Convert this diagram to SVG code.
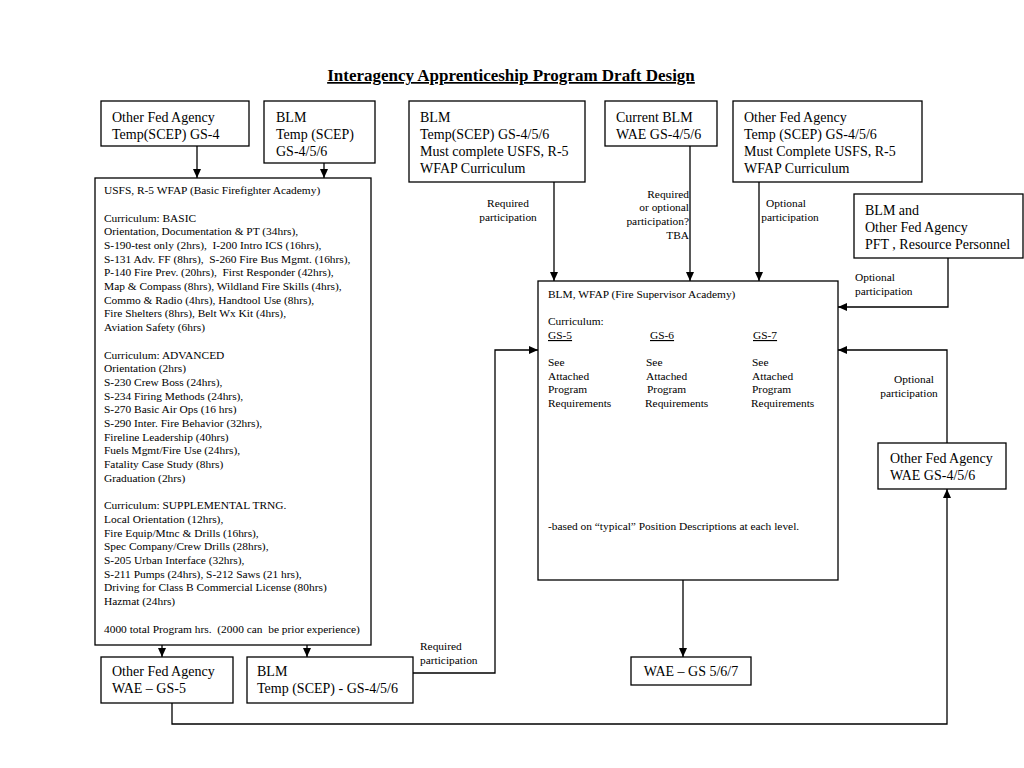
<svg xmlns="http://www.w3.org/2000/svg" width="1024" height="768" viewBox="0 0 1024 768">
<style>
.box{fill:#fff;stroke:#000;stroke-width:1.3}
.t{font-family:"Liberation Serif","Times New Roman",serif;font-size:14px;fill:#000}
.s{font-family:"Liberation Serif","Times New Roman",serif;font-size:11.4px;fill:#000}
.title{font-family:"Liberation Serif","Times New Roman",serif;font-size:17px;font-weight:bold;text-decoration:underline;fill:#000}
.ln{fill:none;stroke:#000;stroke-width:1.3}
</style>
<defs>
<marker id="ah" markerWidth="10" markerHeight="10" refX="9" refY="5" orient="auto" markerUnits="userSpaceOnUse">
<path d="M0,1 L9,5 L0,9 Z" fill="#000"/>
</marker>
</defs>
<rect width="1024" height="768" fill="#fff"/>
<text class="title" x="511" y="81" text-anchor="middle">Interagency Apprenticeship Program Draft Design</text>

<g id="connectors">
<line class="ln" x1="197" y1="146" x2="197" y2="178" marker-end="url(#ah)"/>
<line class="ln" x1="324" y1="163" x2="324" y2="178" marker-end="url(#ah)"/>
<line class="ln" x1="554" y1="182" x2="554" y2="281" marker-end="url(#ah)"/>
<line class="ln" x1="690" y1="146" x2="690" y2="281" marker-end="url(#ah)"/>
<line class="ln" x1="759" y1="182" x2="759" y2="281" marker-end="url(#ah)"/>
<polyline class="ln" points="948,258 948,307 838,307" marker-end="url(#ah)"/>
<polyline class="ln" points="947,443 947,350 838,350" marker-end="url(#ah)"/>
<polyline class="ln" points="410,673 495,673 495,350 538,350" marker-end="url(#ah)"/>
<line class="ln" x1="162" y1="645" x2="162" y2="657" marker-end="url(#ah)"/>
<line class="ln" x1="307" y1="645" x2="307" y2="657" marker-end="url(#ah)"/>
<line class="ln" x1="683" y1="580" x2="683" y2="657" marker-end="url(#ah)"/>
<polyline class="ln" points="172,703 172,724 947,724 947,489" marker-end="url(#ah)"/>
<text class="s" text-anchor="middle"><tspan x="508" y="207">Required</tspan><tspan x="508" y="221">participation</tspan></text>
<text class="s" text-anchor="end"><tspan x="689" y="198">Required</tspan><tspan x="689" y="211">or optional</tspan><tspan x="689" y="225">participation?</tspan><tspan x="689" y="239">TBA</tspan></text>
<text class="s" text-anchor="middle"><tspan x="786" y="207">Optional</tspan><tspan x="790" y="221">participation</tspan></text>
<text class="s"><tspan x="855" y="281">Optional</tspan><tspan x="855" y="295">participation</tspan></text>
<text class="s" text-anchor="middle"><tspan x="914" y="383">Optional</tspan><tspan x="909" y="397">participation</tspan></text>
<text class="s"><tspan x="420" y="650">Required</tspan><tspan x="420" y="664">participation</tspan></text>
</g>

<g id="n1"><rect class="box" x="101" y="101" width="148" height="45"/>
<text class="t"><tspan x="112" y="122">Other Fed Agency</tspan><tspan x="112" y="139">Temp(SCEP) GS-4</tspan></text></g>

<g id="n2"><rect class="box" x="264" y="101" width="111" height="62"/>
<text class="t"><tspan x="276" y="122">BLM</tspan><tspan x="276" y="139">Temp (SCEP)</tspan><tspan x="276" y="156">GS-4/5/6</tspan></text></g>

<g id="n3"><rect class="box" x="409" y="101" width="176" height="81"/>
<text class="t"><tspan x="420" y="122">BLM</tspan><tspan x="420" y="139">Temp(SCEP) GS-4/5/6</tspan><tspan x="420" y="156">Must complete USFS, R-5</tspan><tspan x="420" y="173">WFAP Curriculum</tspan></text></g>

<g id="n4"><rect class="box" x="605" y="101" width="112" height="45"/>
<text class="t"><tspan x="616" y="122">Current BLM</tspan><tspan x="616" y="139">WAE GS-4/5/6</tspan></text></g>

<g id="n5"><rect class="box" x="733" y="101" width="189" height="81"/>
<text class="t"><tspan x="744" y="122">Other Fed Agency</tspan><tspan x="744" y="139">Temp (SCEP) GS-4/5/6</tspan><tspan x="744" y="156">Must Complete USFS, R-5</tspan><tspan x="744" y="173">WFAP Curriculum</tspan></text></g>

<g id="n6"><rect class="box" x="854" y="194" width="169" height="64"/>
<text class="t"><tspan x="865" y="215">BLM and</tspan><tspan x="865" y="232">Other Fed Agency</tspan><tspan x="865" y="249">PFT , Resource Personnel</tspan></text></g>

<g id="n7"><rect class="box" x="95" y="178" width="276" height="467"/>
<text class="s" xml:space="preserve"><tspan x="104" y="194">USFS, R-5 WFAP (Basic Firefighter Academy)</tspan><tspan x="104" y="221.5">Curriculum: BASIC</tspan><tspan x="104" y="235.2">Orientation, Documentation &amp; PT (34hrs),</tspan><tspan x="104" y="248.9">S-190-test only (2hrs),  I-200 Intro ICS (16hrs),</tspan><tspan x="104" y="262.6">S-131 Adv. FF (8hrs),  S-260 Fire Bus Mgmt. (16hrs),</tspan><tspan x="104" y="276.3">P-140 Fire Prev. (20hrs),  First Responder (42hrs),</tspan><tspan x="104" y="290">Map &amp; Compass (8hrs), Wildland Fire Skills (4hrs),</tspan><tspan x="104" y="303.7">Commo &amp; Radio (4hrs), Handtool Use (8hrs),</tspan><tspan x="104" y="317.4">Fire Shelters (8hrs), Belt Wx Kit (4hrs),</tspan><tspan x="104" y="331.1">Aviation Safety (6hrs)</tspan><tspan x="104" y="358.5">Curriculum: ADVANCED</tspan><tspan x="104" y="372.2">Orientation (2hrs)</tspan><tspan x="104" y="385.9">S-230 Crew Boss (24hrs),</tspan><tspan x="104" y="399.6">S-234 Firing Methods (24hrs),</tspan><tspan x="104" y="413.3">S-270 Basic Air Ops (16 hrs)</tspan><tspan x="104" y="427">S-290 Inter. Fire Behavior (32hrs),</tspan><tspan x="104" y="440.7">Fireline Leadership (40hrs)</tspan><tspan x="104" y="454.4">Fuels Mgmt/Fire Use (24hrs),</tspan><tspan x="104" y="468.1">Fatality Case Study (8hrs)</tspan><tspan x="104" y="481.8">Graduation (2hrs)</tspan><tspan x="104" y="509.2">Curriculum: SUPPLEMENTAL TRNG.</tspan><tspan x="104" y="522.9">Local Orientation (12hrs),</tspan><tspan x="104" y="536.6">Fire Equip/Mtnc &amp; Drills (16hrs),</tspan><tspan x="104" y="550.3">Spec Company/Crew Drills (28hrs),</tspan><tspan x="104" y="564">S-205 Urban Interface (32hrs),</tspan><tspan x="104" y="577.7">S-211 Pumps (24hrs), S-212 Saws (21 hrs),</tspan><tspan x="104" y="591.4">Driving for Class B Commercial License (80hrs)</tspan><tspan x="104" y="605.1">Hazmat (24hrs)</tspan><tspan x="104" y="632.5">4000 total Program hrs.  (2000 can  be prior experience)</tspan></text></g>

<g id="n8"><rect class="box" x="538" y="281" width="300" height="299"/>
<text class="s"><tspan x="548" y="298">BLM, WFAP (Fire Supervisor Academy)</tspan><tspan x="548" y="325">Curriculum:</tspan></text>
<text class="s" text-decoration="underline"><tspan x="548" y="339">GS-5</tspan><tspan x="650" y="339">GS-6</tspan><tspan x="753" y="339">GS-7</tspan></text>
<text class="s"><tspan x="548" y="366">See</tspan><tspan x="548" y="380">Attached</tspan><tspan x="548" y="393">Program</tspan><tspan x="548" y="407">Requirements</tspan></text>
<text class="s"><tspan x="646" y="366">See</tspan><tspan x="646" y="380">Attached</tspan><tspan x="647" y="393">Program</tspan><tspan x="645" y="407">Requirements</tspan></text>
<text class="s"><tspan x="752" y="366">See</tspan><tspan x="752" y="380">Attached</tspan><tspan x="752" y="393">Program</tspan><tspan x="751" y="407">Requirements</tspan></text>
<text class="s" x="548" y="530">-based on “typical” Position Descriptions at each level.</text></g>

<g id="n9"><rect class="box" x="878" y="443" width="128" height="46"/>
<text class="t"><tspan x="890" y="463">Other Fed Agency</tspan><tspan x="890" y="480">WAE GS-4/5/6</tspan></text></g>

<g id="n10"><rect class="box" x="101" y="657" width="132" height="46"/>
<text class="t"><tspan x="112" y="676">Other Fed Agency</tspan><tspan x="112" y="693">WAE – GS-5</tspan></text></g>

<g id="n11"><rect class="box" x="247" y="657" width="166" height="46"/>
<text class="t"><tspan x="257" y="676">BLM</tspan><tspan x="257" y="693">Temp (SCEP) - GS-4/5/6</tspan></text></g>

<g id="n12"><rect class="box" x="631" y="657" width="120" height="28"/>
<text class="t" x="691" y="676" text-anchor="middle">WAE – GS 5/6/7</text></g>
</svg>
